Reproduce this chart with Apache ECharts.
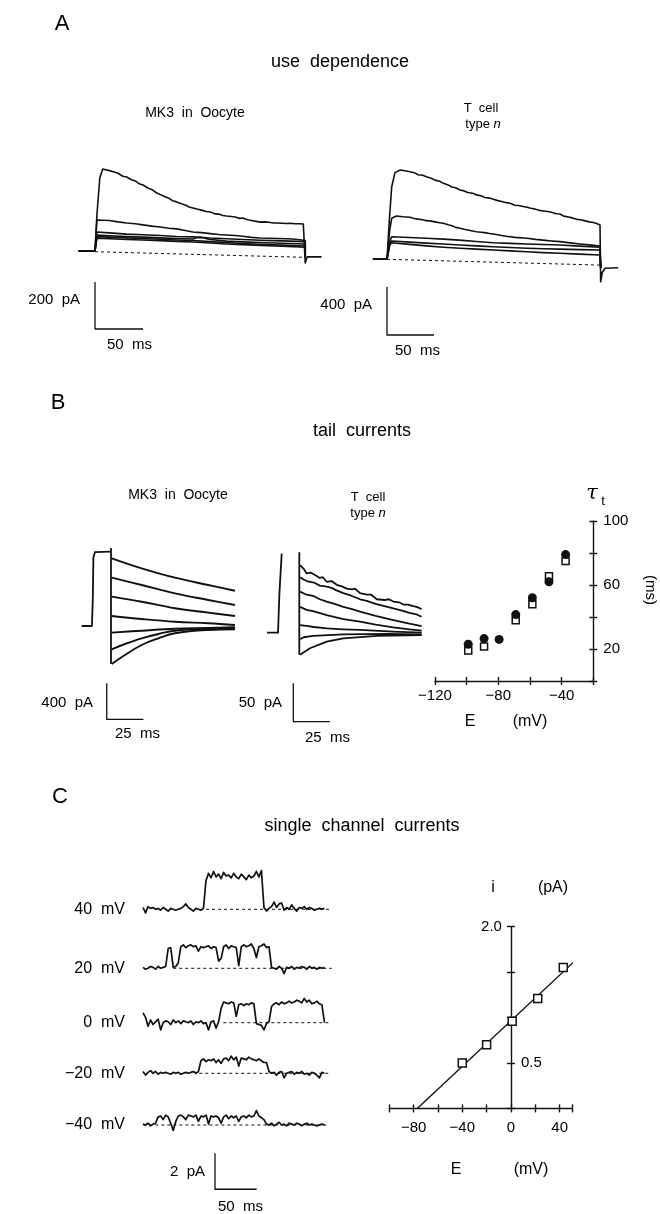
<!DOCTYPE html>
<html>
<head>
<meta charset="utf-8">
<script src="https://cdn.jsdelivr.net/npm/echarts@6/dist/echarts.min.js"></script>
<style>
html, body { margin: 0; padding: 0; background: #fff; }
#chart { width: 660px; height: 1214px; }
</style>
</head>
<body>
<div id="chart"></div>
<script>
const FONT = '"Liberation Sans", Arial, sans-serif'
const INK = '#111'

// A: use dependence, time in ms, current in pA
const aOocyteTraces = [
  [[-17, 0], [0, 0], [2, 153], [5, 311], [8, 349], [15, 342], [20, 336], [24, 331], [29, 318], [33, 315], [38, 303], [42, 298], [46, 286], [50, 281], [55, 268], [59, 262], [64, 248], [68, 240], [73, 231], [77, 224], [81, 214], [85, 209], [90, 201], [94, 196], [98, 187], [102, 183], [107, 178], [111, 174], [116, 168], [120, 166], [125, 158], [129, 157], [133, 151], [137, 149], [142, 147], [146, 145], [150, 139], [154, 140], [159, 133], [163, 130], [168, 126], [172, 123], [177, 124], [181, 122], [186, 119], [190, 119], [195, 118], [199, 117], [204, 118], [208, 116], [213, 116], [217, 115], [219, 110], [219, -51], [221, -25], [236, -25]],
  [[-17, 0], [0, 0], [2, 132], [4, 136], [15, 130], [24, 124], [33, 119], [42, 116], [50, 111], [59, 106], [68, 102], [77, 97], [85, 94], [94, 87], [102, 81], [111, 78], [120, 74], [129, 70], [137, 68], [146, 66], [154, 63], [163, 58], [172, 55], [181, 54], [190, 53], [199, 52], [206, 51], [213, 48], [219, 45], [219, -25]],
  [[-17, 0], [0, 0], [2, 81], [15, 77], [33, 72], [50, 69], [68, 66], [85, 62], [102, 60], [120, 55], [137, 52], [154, 49], [172, 46], [195, 43], [219, 40], [219, -25]],
  [[-17, 0], [0, 0], [2, 68], [15, 65], [33, 62], [50, 59], [68, 56], [85, 53], [102, 51], [106, 57], [110, 58], [114, 55], [118, 50], [137, 42], [154, 39], [172, 36], [195, 33], [219, 30], [219, -25]],
  [[-17, 0], [0, 0], [2, 61], [15, 59], [33, 56], [50, 53], [68, 50], [85, 47], [102, 45], [120, 40], [137, 36], [154, 32], [172, 29], [195, 25], [219, 21], [219, -25]],
  [[-17, 0], [0, 0], [2, 54], [15, 52], [33, 49], [50, 47], [68, 44], [85, 41], [102, 38], [120, 34], [137, 30], [154, 27], [172, 24], [195, 20], [219, 16], [219, -25]]
]
const aOocyteLeak = [[0, -3], [219, -27]]
const aOocyteBar = [[0, -132], [0, -332], [50, -332]]

const aTcellTraces = [
  [[-15, 0], [0, 0], [2.5, 328], [5, 605], [8.5, 722], [14, 744], [19, 738], [24.5, 730], [29, 722], [33, 705], [38, 700], [42, 688], [47, 676], [51, 660], [56, 650], [60, 633], [65, 620], [69, 603], [73, 596], [77.7, 578], [82, 570], [86, 556], [91, 550], [95, 537], [100, 530], [104, 515], [109, 510], [113, 500], [118, 489], [122, 482], [127, 472], [131, 467], [136, 450], [140, 448], [145, 440], [149, 433], [153, 425], [157, 420], [162, 408], [166.5, 403], [171, 398], [175, 392], [180, 380], [184, 378], [188, 360], [193, 352], [197, 345], [202, 333], [206, 330], [211, 320], [215, 312], [219.5, 306], [223, 298], [226.6, 286], [227.3, -187], [229, -110], [232, -75], [246, -70]],
  [[-15, 0], [0, 0], [3, 250], [5, 342], [10, 361], [17, 355], [24.5, 350], [29, 340], [33, 335], [38, 330], [42, 322], [47, 318], [51, 312], [56, 305], [60, 300], [65, 288], [69, 280], [73, 266], [77.7, 258], [82, 250], [86, 244], [91, 236], [95, 230], [100, 226], [104, 222], [109, 215], [113, 211], [118, 204], [122, 198], [127, 192], [131, 188], [136, 183], [140, 181], [145, 178], [149, 175], [158, 166], [166, 160], [175, 153], [184, 147], [195, 137], [205, 128], [215, 120], [226.6, 111], [227.3, -70]],
  [[-15, 0], [0, 0], [3, 150], [5, 188], [24, 182], [42, 175], [60, 168], [77, 160], [95, 148], [113, 138], [131, 133], [149, 128], [166, 123], [184, 119], [205, 110], [226.6, 100], [227.3, -70]],
  [[-15, 0], [0, 0], [3, 130], [5, 152], [24, 143], [42, 135], [60, 127], [77.7, 119], [95, 112], [113, 105], [131, 98], [149, 92], [166, 88], [184, 85], [205, 81], [226.6, 77], [227.3, -70]],
  [[-15, 0], [0, 0], [3, 120], [5, 138], [24, 124], [42, 112], [60, 101], [77.7, 92], [95, 85], [113, 78], [131, 70], [149, 63], [166, 56], [184, 50], [205, 43], [226.6, 36], [227.3, -70]]
]
const aTcellLeak = [[0, 0], [226.6, -48]]
const aTcellBar = [[0, -231], [0, -631], [50, -631]]

// B: tail currents
const bOocytePre = [[-20, 0], [-13, 0], [-12.4, 300], [-12, 760], [-11, 820], [-10, 826], [0, 826]]
const bOocyteStep = [[0, 867], [0, -422]]
const bOocyteTails = [
  [[0.5, 752], [20.9, 641], [43.6, 537], [66.3, 456], [84.5, 392]],
  [[0.5, 537], [20.9, 456], [43.6, 363], [66.3, 289], [84.5, 233]],
  [[0.5, 326], [20.9, 270], [43.6, 197], [66.3, 148], [84.5, 111]],
  [[0.5, 111], [20.9, 78], [43.6, 48], [66.3, 30], [84.5, 11]],
  [[0.5, -74], [20.9, -52], [43.6, -30], [66.3, -22], [84.5, -14]],
  [[0.5, -259], [9.5, -200], [20.9, -137], [32.3, -89], [43.6, -52], [66.3, -33], [84.5, -30]],
  [[0.5, -422], [9.5, -322], [20.9, -211], [32.3, -137], [43.6, -81], [66.3, -44], [84.5, -37]]
]
const bOocyteBar = [[-2.9, -637], [-2.9, -1037], [22.1, -1037]]

const bTcellPre = [[-22, 0], [-14.5, 0], [-13.6, 50], [-12, 104]]
const bTcellStep = [[0, 106], [0, -29]]
const bTcellTails = [
  [[0.5, 89], [3, 84], [5, 78], [8, 79], [10.7, 76], [14, 72], [16, 73], [18.7, 67], [22, 68], [25.5, 63], [29, 61], [32.3, 58], [36, 57], [38, 58], [41.4, 52], [46, 50], [49, 50], [52.8, 44], [58, 43], [61, 44], [64.1, 41], [68, 40], [70.9, 37], [74, 37], [77.7, 35], [80, 34], [83.4, 31]],
  [[0.5, 73], [3, 70], [5, 68], [10, 66], [14, 62], [18.7, 60.5], [22, 59], [25, 56], [30, 52], [35, 49], [41.4, 44], [46, 42], [52, 38], [58, 35], [64.1, 32], [70, 29], [75, 26], [80, 24], [83.4, 21]],
  [[0.5, 54], [5, 50], [10, 48], [14, 44], [18.7, 41], [24, 38], [30, 34], [36, 31], [41.4, 27.6], [52, 22], [64.1, 16.7], [75, 12], [83.4, 8.8]],
  [[0.5, 34], [5, 30], [10, 28], [18.7, 23], [30, 18], [41.4, 14.5], [52, 10.5], [64.1, 7], [75, 4.5], [83.4, 2.6]],
  [[0.5, 10], [5, 9], [10, 7.5], [18.7, 5.8], [30, 4.5], [41.4, 3.6], [64, 1.5], [83.4, 0]],
  [[0.5, -8.7], [3, -6], [9.5, -4.3], [30, -2.1], [60, -1.5], [83.4, -2.1]],
  [[0.5, -29], [7.3, -20.5], [18.7, -11.8], [30, -7.4], [52.8, -4.3], [83.4, -3]]
]
const bTcellBar = [[-4.1, -66.6], [-4.1, -117], [20.9, -117]]

// B: tail time constant vs voltage (mV, ms)
const tauFilledE = [-99, -89, -79.5, -69, -58.5, -48, -37.5]
const tauFilled = [23, 26.5, 26, 41.5, 52, 62, 79]
const tauOpenE = [-99, -89, -69, -58.5, -48, -37.5]
const tauOpen = [19, 21.5, 38, 48, 65.5, 75]

// C: single channel records, sampled every 3 ms, current in pA
const DT = 3
const cLabels = ['40  mV', '20  mV', '0  mV', '\u221220  mV', '\u221240  mV']
const c40 = [0.1, -0.2, 0.15, 0.05, 0.1, 0.0, 0.05, -0.05, 0.1, 0.0, -0.1, 0.05, 0.0, -0.05, 0.0, 0.05, 0.15, 0.3, 0.1, 0.0, -0.1, 0.05, 0.0, -0.05, 0.05,
  1.6, 2.0, 1.75, 2.1, 1.8, 1.95, 1.7, 2.05, 1.85, 1.9, 1.75, 2.0, 1.8, 1.7, 1.95, 1.8, 1.65, 1.9, 1.75, 1.85, 2.1, 1.8, 2.15,
  0.1, -0.1, 0.05, 0.15, 0.4, 0.1, 0.3, 0.35, -0.05, 0.1, 0.0, 0.25, 0.05, -0.1, 0.1, 0.05, 0.15, 0.0, 0.1, 0.05, -0.05, 0.0, 0.05, 0.0, 0.05]
const c20 = [0.05, -0.05, 0.0, 0.1, 0.05, -0.05, 0.1, 0.0, 0.05, 0.1, 1.1, 1.15, 0.05, 0.1, 0.3,
  1.2, 1.3, 1.15, 1.25, 1.3, 1.2, 1.25, 0.95, 1.2, 1.15, 1.2, 1.25, 1.1, 1.2, 1.15, 0.4, 0.55, 1.2, 1.3, 1.1, 1.25, 1.2, 1.15, 0.15, 1.2, 1.3, 1.2, 1.25, 1.35, 1.1, 0.6, 1.2, 1.25, 1.35, 1.15, 1.2,
  0.05, 0.0, -0.05, 0.1, 0.0, -0.3, 0.05, 0.0, 0.1, -0.05, 0.05, 0.0, 0.1, 0.05, -0.05, 0.1, 0.0, 0.05, -0.05, 0.05, 0.0, 0.05]
const c0 = [0.55, 0.3, -0.2, 0.15, -0.1, 0.05, 0.2, -0.4, 0.0, 0.1, 0.05, -0.1, 0.15, 0.0, 0.1, -0.05, 0.1, 0.05, 0.0, 0.1, -0.1, 0.05, 0.0, 0.1, -0.05, 0.0, -0.4, 0.05, 0.1, -0.3, 0.05,
  0.8, 1.15, 1.1, 1.05, 1.15, 1.1, 0.35, 1.0, 1.05, 0.95, 1.05, 1.0, 1.1, 1.05,
  -0.05, -0.1, -0.15, -0.4, -0.05, 0.05,
  0.9, 1.05, 1.1, 1.0, 1.15, 1.05, 1.1, 1.2, 1.1, 1.15, 1.25, 1.2, 1.1, 1.35, 1.15, 1.25, 1.05, 1.1, 1.2, 1.05, 1.0, 0.0]
const cm20 = [0.1, -0.1, 0.05, 0.15, 0.0, 0.1, -0.05, 0.05, 0.0, 0.05, 0.0, -0.05, 0.05, 0.0, 0.05, -0.05, 0.0, 0.05, 0.0, 0.05, 0.1, 0.0, 0.1,
  0.7, 0.8, 0.65, 0.75, 0.7, 0.8, 0.6, 0.75, 0.55, 0.8, 0.85, 0.7, 0.95, 0.75, 0.9, 0.4, 0.85, 0.8, 0.75, 0.9, 0.8, 0.75, 0.7, 0.8, 0.7, 0.6, 0.6,
  0.1, 0.0, 0.05, -0.1, 0.05, 0.1, -0.25, 0.0, 0.05, 0.1, -0.05, 0.05, 0.0, 0.1, -0.05, 0.0, -0.1, 0.05, 0.0, -0.1, -0.25, 0.05, 0.0]
const cm40 = [0.05, 0.0, 0.1, -0.05, 0.05, 0.1,
  0.45, 0.5, 0.3, 0.55, 0.45, 0.1, -0.3, 0.2, 0.5, 0.55, 0.45, 0.3, 0.55, 0.5, 0.45, 0.55, 0.2, 0.5, 0.45, 0.55, 0.05, 0.5, 0.45, 0.5, 0.4, 0.1, 0.45, 0.55, 0.35, 0.5, 0.4, 0.5, 0.2, 0.45, 0.5, 0.4, 0.55, 0.45, 0.5, 0.8, 0.5, 0.4, 0.3,
  0.05, 0.0, 0.1, -0.05, 0.05, 0.15, 0.0, 0.05, -0.05, 0.1, 0.05, 0.0, 0.1, 0.05, -0.05, 0.05, 0.1, 0.0, 0.05, 0.0, -0.05, 0.0, 0.05, 0.0]
const cTraces = [c40, c20, c0, cm20, cm40]
const cClosedLevel = [[75, 224.6], [36, 224.6], [95.6, 222.6], [67, 222.6], [0.4, 222]]
const cBar = [[85.7, -1.57], [85.7, -3.57], [135.3, -3.57]]

// C: current-voltage relation (mV, pA)
const ivE = [-40, -20, 1, 22, 43]
const ivI = [0.5, 0.7, 0.96, 1.21, 1.55]
const ivFit = [[-77, 0], [53, 1.63]]

const grids = []
const xAxes = []
const yAxes = []
const series = []

// a hidden frame in physical units: origin pixel, px per unit, ranges
function frame (f) {
  const gi = grids.length
  grids.push({
    left: f.x0 + f.xr[0] * f.sx,
    top: f.y0 - f.yr[1] * f.sy,
    width: (f.xr[1] - f.xr[0]) * f.sx,
    height: (f.yr[1] - f.yr[0]) * f.sy,
    outerBoundsMode: 'none'
  })
  xAxes.push({ type: 'value', gridIndex: gi, min: f.xr[0], max: f.xr[1], show: false })
  yAxes.push({ type: 'value', gridIndex: gi, min: f.yr[0], max: f.yr[1], show: false })
  return { x: xAxes.length - 1, y: yAxes.length - 1 }
}

function line (ax, data, width, extra) {
  series.push(Object.assign({
    type: 'line',
    xAxisIndex: ax.x,
    yAxisIndex: ax.y,
    data: data,
    symbol: 'none',
    silent: true,
    clip: false,
    lineStyle: { color: INK, width: width || 1.6, join: 'round' }
  }, extra))
}

function dashed (ax, data) {
  line(ax, data, 1, { lineStyle: { color: INK, width: 1, type: [3, 3] } })
}

const aOocyte = frame({ x0: 95, y0: 251, sx: 0.96, sy: 0.235, xr: [-20, 240], yr: [-400, 400] })
aOocyteTraces.forEach(d => line(aOocyte, d, 1.6))
dashed(aOocyte, aOocyteLeak)
line(aOocyte, aOocyteBar, 1.3)

const aTcell = frame({ x0: 387, y0: 259.3, sx: 0.94, sy: 0.12, xr: [-20, 250], yr: [-700, 800] })
aTcellTraces.forEach(d => line(aTcell, d, 1.6))
dashed(aTcell, aTcellLeak)
line(aTcell, aTcellBar, 1.3)

const bOocyte = frame({ x0: 111, y0: 626, sx: 1.467, sy: 0.09, xr: [-25, 90], yr: [-1100, 1000] })
line(bOocyte, bOocytePre, 1.8)
line(bOocyte, bOocyteStep, 1.8)
bOocyteTails.forEach(d => line(bOocyte, d, 1.9, { smooth: 0.4 }))
line(bOocyte, bOocyteBar, 1.3)

const bTcell = frame({ x0: 299.3, y0: 632.7, sx: 1.467, sy: 0.76, xr: [-25, 90], yr: [-125, 115] })
line(bTcell, bTcellPre, 1.8)
line(bTcell, bTcellStep, 1.8)
bTcellTails.forEach(d => line(bTcell, d, 1.8))
line(bTcell, bTcellBar, 1.3)

const cBase = [909.3, 968.3, 1022.7, 1073.3, 1125]
cTraces.forEach((vals, k) => {
  const last = k === cTraces.length - 1
  const ax = frame({ x0: 143, y0: cBase[k], sx: 0.84, sy: 18, xr: [-5, 230], yr: [last ? -3.8 : -1, 2.5] })
  line(ax, vals.map((v, i) => [i * DT, v]), 1.7)
  dashed(ax, [[cClosedLevel[k][0], 0], [cClosedLevel[k][1], 0]])
  if (last) line(ax, cBar, 1.3)
})

const axisLineStyle = { color: INK, width: 1.4 }
const labelStyle = { color: '#000', fontSize: 15, fontFamily: FONT }
const minus = v => String(v).replace('-', '\u2212')

// tau vs E
const gTau = grids.length
grids.push({ left: 435, top: 521, width: 158.3, height: 160, outerBoundsMode: 'none' })
const tauX = xAxes.length
xAxes.push({
  type: 'value', gridIndex: gTau, min: -120, max: -20, interval: 20, position: 'bottom',
  axisLine: { onZero: false, lineStyle: axisLineStyle },
  axisTick: { length: 4, lineStyle: axisLineStyle },
  axisLabel: Object.assign({ margin: 7, formatter: v => v % 40 === 0 ? minus(v) : '' }, labelStyle),
  splitLine: { show: false }
})
xAxes.push({
  type: 'value', gridIndex: gTau, min: -120, max: -20, interval: 20, position: 'bottom',
  axisLine: { show: false, onZero: false },
  axisTick: { inside: true, length: 4, lineStyle: axisLineStyle },
  axisLabel: { show: false },
  splitLine: { show: false }
})
const tauY = yAxes.length
yAxes.push({
  type: 'value', gridIndex: gTau, min: 0, max: 100, interval: 20, position: 'right',
  axisLine: { onZero: false, lineStyle: axisLineStyle },
  axisTick: { length: 4, lineStyle: axisLineStyle },
  axisLabel: Object.assign({ margin: 10, formatter: v => v % 40 === 20 ? String(v) : '' }, labelStyle),
  splitLine: { show: false }
})
yAxes.push({
  type: 'value', gridIndex: gTau, min: 0, max: 100, interval: 20, position: 'right',
  axisLine: { show: false, onZero: false },
  axisTick: { inside: true, length: 4, lineStyle: axisLineStyle },
  axisLabel: { show: false },
  splitLine: { show: false }
})
series.push({
  type: 'scatter', xAxisIndex: tauX, yAxisIndex: tauY, silent: true, z: 3,
  symbol: 'rect', symbolSize: 7,
  itemStyle: { color: '#fff', borderColor: INK, borderWidth: 1.5, opacity: 1 },
  data: tauOpenE.map((e, i) => [e, tauOpen[i]])
})
series.push({
  type: 'scatter', xAxisIndex: tauX, yAxisIndex: tauY, silent: true, z: 4,
  symbol: 'circle', symbolSize: 9,
  itemStyle: { color: INK, opacity: 1 },
  data: tauFilledE.map((e, i) => [e, tauFilled[i]])
})

// i vs E, y axis drawn at E = 0
const ivLeft = 389.3
const ivWidth = 182.5
const ivMin = -100
const ivMax = 50
const ivYOffset = -ivWidth * (0 - ivMin) / (ivMax - ivMin)
const gIV = grids.length
grids.push({ left: ivLeft, top: 926.7, width: ivWidth, height: 181.7, outerBoundsMode: 'none' })
const ivX = xAxes.length
xAxes.push({
  type: 'value', gridIndex: gIV, min: ivMin, max: ivMax, interval: 20, position: 'bottom',
  axisLine: { onZero: false, lineStyle: axisLineStyle },
  axisTick: { length: 4, lineStyle: axisLineStyle },
  axisLabel: Object.assign({ margin: 12, formatter: v => v % 40 === 0 ? minus(v) : '' }, labelStyle),
  splitLine: { show: false }
})
xAxes.push({
  type: 'value', gridIndex: gIV, min: ivMin, max: ivMax, interval: 20, position: 'bottom',
  axisLine: { show: false, onZero: false },
  axisTick: { inside: true, length: 4, lineStyle: axisLineStyle },
  axisLabel: { show: false },
  splitLine: { show: false }
})
const ivY = yAxes.length
yAxes.push({
  type: 'value', gridIndex: gIV, min: 0, max: 2, interval: 0.5, position: 'left', offset: ivYOffset,
  axisLine: { onZero: false, lineStyle: axisLineStyle },
  axisTick: { length: 4, lineStyle: axisLineStyle },
  axisLabel: Object.assign({ margin: 9, formatter: v => v === 2 ? '2.0' : '' }, labelStyle),
  splitLine: { show: false }
})
yAxes.push({
  type: 'value', gridIndex: gIV, min: 0, max: 2, interval: 0.5, position: 'left', offset: ivYOffset,
  axisLine: { show: false, onZero: false },
  axisTick: { inside: true, length: 4, lineStyle: axisLineStyle },
  axisLabel: Object.assign({ inside: true, margin: 10, formatter: v => v === 0.5 ? '0.5' : '' }, labelStyle),
  splitLine: { show: false }
})
line({ x: ivX, y: ivY }, ivFit, 1.4)
series.push({
  type: 'scatter', xAxisIndex: ivX, yAxisIndex: ivY, silent: true, z: 4,
  symbol: 'rect', symbolSize: 8,
  itemStyle: { color: '#fff', borderColor: INK, borderWidth: 1.5, opacity: 1 },
  data: ivE.map((e, i) => [e, ivI[i]])
})

function txt (text, x, y, size, align, extra) {
  return Object.assign({
    type: 'text', x: x, y: y, silent: true,
    style: {
      text: text, font: size + 'px ' + FONT, fill: '#000',
      align: align || 'center', verticalAlign: 'middle',
      textAlign: align || 'center', textVerticalAlign: 'middle'
    }
  }, extra)
}

function typeN (x, y) {
  const t = txt('type {i|n}', x, y, 13)
  t.style.rich = { i: { font: 'italic 13px ' + FONT } }
  return t
}

const tau = txt('\u03c4', 592, 494, 21)
tau.style.font = 'italic 21px "DejaVu Serif", serif'

const texts = [
  txt('A', 62, 24, 22),
  txt('use  dependence', 340, 62, 18),
  txt('MK3  in  Oocyte', 195, 113, 14),
  txt('T  cell', 481, 108, 13),
  typeN(483, 124),
  txt('200  pA', 80, 300, 15, 'right'),
  txt('50  ms', 107, 345, 15, 'left'),
  txt('400  pA', 372, 305, 15, 'right'),
  txt('50  ms', 395, 351, 15, 'left'),

  txt('B', 58, 403, 22),
  txt('tail  currents', 362, 431, 18),
  txt('MK3  in  Oocyte', 178, 495, 14),
  txt('T  cell', 368, 497, 13),
  typeN(368, 513),
  txt('400  pA', 93, 703, 15, 'right'),
  txt('25  ms', 115, 734, 15, 'left'),
  txt('50  pA', 282, 703, 15, 'right'),
  txt('25  ms', 305, 738, 15, 'left'),
  tau,
  txt('t', 603, 501, 13),
  txt('(ms)', 650, 590, 15, 'center', { rotation: -Math.PI / 2 }),
  txt('E', 470, 722, 16),
  txt('(mV)', 530, 722, 16),

  txt('C', 60, 797, 22),
  txt('single  channel  currents', 362, 826, 18),
  txt('2  pA', 205, 1172, 15, 'right'),
  txt('50  ms', 218, 1207, 15, 'left'),
  txt('i', 493, 888, 16),
  txt('(pA)', 553, 888, 16),
  txt('E', 456, 1170, 16),
  txt('(mV)', 531, 1170, 16)
]
cLabels.forEach((s, k) => texts.push(txt(s, 125, cBase[k], 16, 'right')))

const chart = echarts.init(document.getElementById('chart'), null, { renderer: 'canvas' })
chart.setOption({
  animation: false,
  backgroundColor: '#fff',
  grid: grids,
  xAxis: xAxes,
  yAxis: yAxes,
  series: series,
  graphic: texts
})
</script>
</body>
</html>
